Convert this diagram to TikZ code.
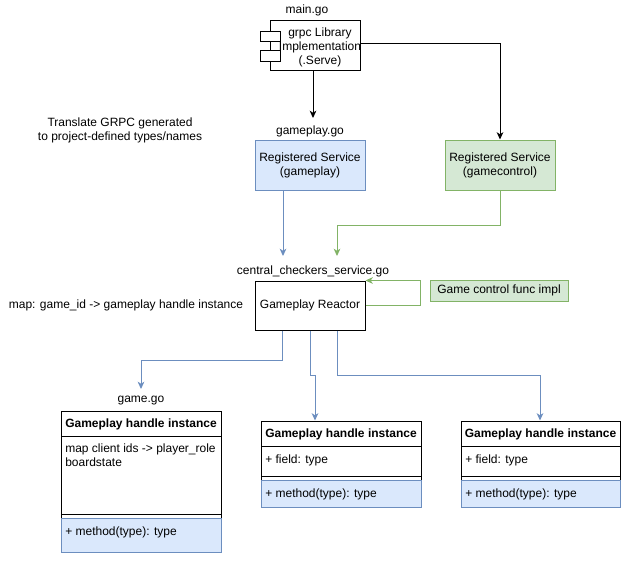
\documentclass[tikz,border=0pt]{standalone}
\usepackage{fontspec}
\setmainfont{Liberation Sans}
\usetikzlibrary{arrows.meta,calc}
\definecolor{bluefill}{HTML}{DAE8FC}
\definecolor{bluestroke}{HTML}{6C8EBF}
\definecolor{greenfill}{HTML}{D5E8D4}
\definecolor{greenstroke}{HTML}{82B366}
\tikzset{
  base/.style={line width=0.75pt},
  txt/.style={font=\fontsize{9}{10.5}\selectfont, inner sep=0pt, align=center},
  ltxt/.style={font=\fontsize{9}{10.5}\selectfont, inner sep=0pt, anchor=west, align=left},
  plainbox/.style={base, draw=black, fill=white, inner sep=0pt},
  bluebox/.style={base, draw=bluestroke, fill=bluefill, inner sep=0pt, font=\fontsize{9}{10.5}\selectfont, align=center},
  greenbox/.style={base, draw=greenstroke, fill=greenfill, inner sep=0pt, font=\fontsize{9}{10.5}\selectfont, align=center},
  tip/.style={-{Stealth[length=5.5pt,width=5pt,inset=1.6pt]}},
  blackarr/.style={base, draw=black, tip},
  bluearr/.style={base, draw=bluestroke, tip},
  greenarr/.style={base, draw=greenstroke, tip},
}
\begin{document}
\begin{tikzpicture}[x=0.75pt,y=-0.75pt]
\useasboundingbox (0,0) rectangle (621,564);

% main.go component
\node[plainbox, minimum width=67.5pt, minimum height=37.5pt] (main) at (315,45) {};
\node[plainbox, minimum width=15pt, minimum height=7.5pt] (port1) at (270,36) {};
\node[plainbox, minimum width=15pt, minimum height=8.25pt] (port2) at (270,55.5) {};
\node[txt] (maintext) at (320,47) {grpc Library\\Implementation\\(.Serve)};
\node[txt] (mainlabel) at (307,10) {main.go};

% registered services
\node[bluebox, minimum width=82.5pt, minimum height=37.5pt] (blue) at (310,165) {Registered Service\\(gameplay)};
\node[greenbox, minimum width=82.5pt, minimum height=37.5pt] (green) at (500,165) {Registered Service\\(gamecontrol)};
\node[txt] (gplabel) at (310,131) {gameplay.go};
\node[txt] (translate) at (120,130.5) {Translate GRPC generated\\to project-defined types/names};

% arrows from main
\coordinate (a1) at (313,118);
\draw[blackarr] (main.south -| a1) -- (a1);
\draw[blackarr] ($(main.east)+(0,-1.5)$) -| (green.north);

% reactor
\node[plainbox, minimum width=82.5pt, minimum height=36.75pt, font=\fontsize{9}{10.5}\selectfont] (reactor) at (310,305.5) {Gameplay Reactor};
\node[txt] (cclabel) at (313,271) {central\_checkers\_service.go};
\node[txt] (maplabel) at (126,305) {map: game\_id -> gameplay handle instance};
\node[greenbox, minimum width=103.5pt, minimum height=15.75pt] (note) at (499,290.5) {Game control func impl};

% arrows into reactor
\coordinate (inA) at (283,256);
\coordinate (inB) at (337,256);
\coordinate (gbend) at (337,225);
\draw[bluearr] (blue.south -| inA) -- (inA);
\draw[greenarr] (green.south) |- (gbend) -- (inB);
\draw[greenarr] (reactor.east) -- ++(55,0) |- (reactor.north east);

% bottom class boxes
\node[plainbox, minimum width=120pt, minimum height=105.75pt] (box1) at (141,481.5) {};
\node[plainbox, minimum width=120pt, minimum height=64.5pt] (box2) at (341,464) {};
\node[plainbox, minimum width=119.25pt, minimum height=64.5pt] (box3) at (540.5,464) {};

% box1 internals
\draw[base] (61,436) -- (221,436);
\draw[base] (61,514) -- (221,514);
\node[bluebox, minimum width=120pt, minimum height=25.5pt] (m1) at (141,535) {};
\node[txt, font=\fontsize{9}{10.5}\selectfont\bfseries] (h1) at (141,424) {Gameplay handle instance};
\node[ltxt, anchor=north west] (f1) at (65,444) {map client ids -> player\_role\\boardstate};
\node[ltxt] (mt1) at (65,532.5) {+ method(type): type};

% box2 internals
\draw[base] (261,446) -- (421,446);
\draw[base] (261,476) -- (421,476);
\node[bluebox, minimum width=120pt, minimum height=20.25pt] (m2) at (341,493.5) {};
\node[txt, font=\fontsize{9}{10.5}\selectfont\bfseries] (h2) at (341,434) {Gameplay handle instance};
\node[ltxt] (f2) at (265,460) {+ field: type};
\node[ltxt] (mt2) at (265,494) {+ method(type): type};

% box3 internals
\draw[base] (461,446) -- (620,446);
\draw[base] (461,476) -- (620,476);
\node[bluebox, minimum width=119.25pt, minimum height=20.25pt] (m3) at (540.5,493.5) {};
\node[txt, font=\fontsize{9}{10.5}\selectfont\bfseries] (h3) at (540.5,434) {Gameplay handle instance};
\node[ltxt] (f3) at (465,460) {+ field: type};
\node[ltxt] (mt3) at (465,494) {+ method(type): type};

\node[txt] (gamelabel) at (141,401) {game.go};

% arrows from reactor
\coordinate (r1) at (282,360);
\coordinate (b1) at (141,389);
\draw[bluearr] (r1 |- reactor.south) -- (r1) -| (b1);
\coordinate (r2) at (315,375);
\draw[bluearr] (reactor.south) |- (r2) -- (r2 |- box2.north);
\coordinate (r3) at (337,375);
\coordinate (r3b) at (540,375);
\draw[bluearr] (r3 |- reactor.south) -- (r3) -- (r3b) -- (r3b |- box3.north);
\end{tikzpicture}
\end{document}
